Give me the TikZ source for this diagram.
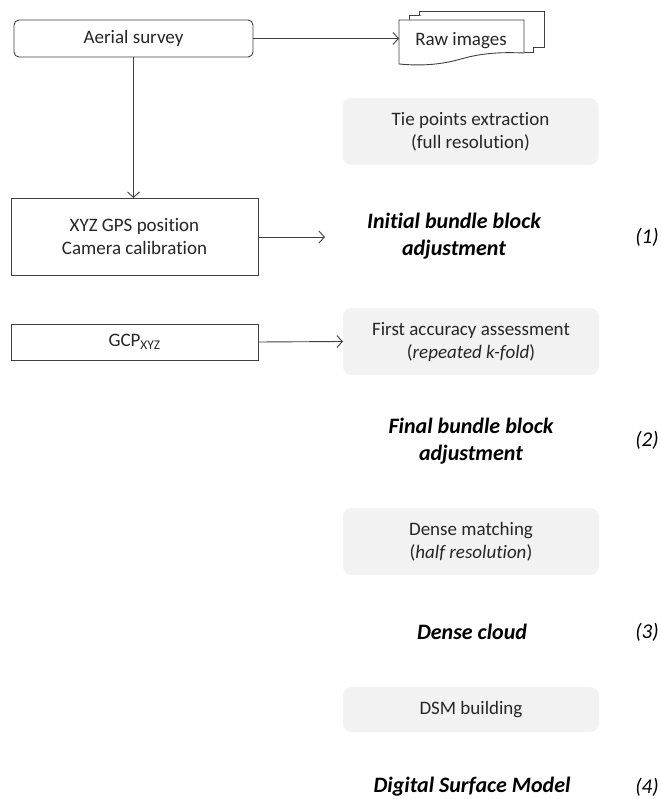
\documentclass[tikz,border=0pt]{standalone}
\usepackage{fontspec}
\setmainfont{Carlito}[Ligatures=NoCommon]
\usetikzlibrary{arrows.meta}
\definecolor{boxgray}{HTML}{F2F2F2}
\definecolor{linec}{HTML}{404040}
\definecolor{txtc}{HTML}{262626}
\begin{document}
\begin{tikzpicture}[x=1pt,y=-1pt,
  every node/.style={inner sep=0pt, outer sep=0pt, align=center, text=txtc,
    font=\fontsize{19}{23}\selectfont},
  wbox/.style={draw=linec, line width=0.9pt, fill=white},
  gbox/.style={fill=boxgray, rounded corners=9pt, minimum width=256pt},
  result/.style={text=black, font=\fontsize{22}{27}\selectfont\bfseries\itshape},
  numlab/.style={text=black, font=\fontsize{21}{25}\selectfont\itshape},
  arr/.style={draw=linec, line width=0.9pt, -{Straight Barb[length=5.5pt,width=12pt]}},
  page/.style={draw=linec, line width=0.9pt, fill=white}]
\useasboundingbox (0,0) rectangle (661,799);

% boxes on the left
\node[wbox, rounded corners=5pt, minimum width=239pt, minimum height=37pt] (aerial) at (133.5,38.5) {Aerial survey};
\node[wbox, minimum width=247pt, minimum height=77pt] (xyz) at (134.5,236.5) {XYZ GPS position\\Camera calibration};
\node[wbox, minimum width=247pt, minimum height=36pt] (gcp) at (134.5,342) {GCP\textsubscript{XYZ}};

% raw images (stacked documents)
\draw[page] (409,20) -- (409,15) -- (533,15) -- (533,52) -- (524,52);
\draw[page] (419,15) -- (419,11) -- (544,11) -- (544,47) -- (533,47);
\draw[page] (399,20) -- (524,20) -- (524,53)
  .. controls (500,52) and (482,53) .. (461,59)
  .. controls (440,65) and (420,66) .. (399,64) -- cycle;
\node (raw) at (461,41) {Raw images};
\coordinate (rawleft) at (399,39);

% gray process boxes
\node[gbox, minimum height=67pt] (tie) at (470.5,131.5) {Tie points extraction\\(full resolution)};
\node[gbox, minimum height=67pt] (first) at (471,341.5) {First accuracy assessment\\(\textit{repeated k-fold})};
\node[gbox, minimum height=67pt] (dense) at (471,541.5) {Dense matching\\(\textit{half resolution})};
\node[gbox, minimum height=45pt] (dsm) at (471,709.5) {DSM building};

% results
\node[result] (initial) at (454,236.5) {Initial bundle block\\adjustment};
\node[result] (final) at (471,441.5) {Final bundle block\\adjustment};
\node[result] (dcloud) at (472,632) {Dense cloud};
\node[result] (dsmodel) at (472,787) {Digital Surface Model};

\node[numlab] (n1) at (647,237) {(1)};
\node[numlab] (n2) at (647,440) {(2)};
\node[numlab] (n3) at (647,632) {(3)};
\node[numlab] (n4) at (647,787) {(4)};

% connectors
\coordinate (a1end) at (325,237);
\draw[arr] (aerial.east) -- (aerial.east -| rawleft);
\draw[arr] (aerial.south) -- (aerial.south |- xyz.north);
\draw[arr] (xyz.east |- a1end) -- (a1end);
\draw[arr] (gcp.east) -- (first.west);
\end{tikzpicture}
\end{document}
